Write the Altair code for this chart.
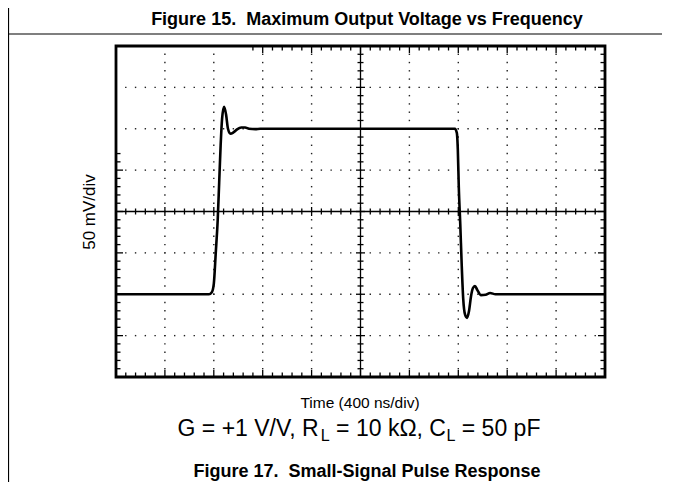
import altair as alt
import pandas as pd
import numpy as np

# ---------------- data ----------------
# pulse response: time in ns, output in mV (400 ns/div, 50 mV/div)
t_ns = [0, 760, 784, 800, 816, 832, 844, 856, 868, 884, 900, 916, 936, 960, 988,
        1024, 1056, 1088, 1140, 1180, 2772, 2788, 2796, 2804, 2816, 2828, 2840,
        2856, 2872, 2888, 2904, 2920, 2936, 2956, 2984, 3024, 3060, 3104, 4000]
v_mv = [-100, -100, -97.5, -87.5, -50, -10, 35, 80, 112.5, 126.5, 117.5, 100, 94,
        95.5, 99, 101.5, 101.5, 100, 99.5, 100, 100, 95, 75, 30, -15, -65, -105,
        -125, -128.5, -120, -102.5, -92.5, -90, -95, -101, -100.5, -98.5, -100, -100]

NS_PER_DIV = 400
MV_PER_DIV = 50
X_DIVS = 10
Y_DIVS = 8
MINOR_PER_DIV = 5

NB = "\u00a0"
title_top = "Figure 15." + NB + " Maximum Output Voltage vs Frequency"
x_label = "Time (400 ns/div)"
y_label = "50 mV/div"
# (text, is_subscript, leading gap in spaces)
cond_parts = [("G = +1 V/V, R", False, 0), ("L", True, 0), ("= 10 k\u03a9, C", False, 1),
              ("L", True, 0), ("= 50 pF", False, 1)]
caption = "Figure 17." + NB + " Small-Signal Pulse Response"

# ---------------- geometry ----------------
W, H = 489, 331
X0, X1 = 0, NS_PER_DIV * X_DIVS
Y0, Y1 = -MV_PER_DIV * Y_DIVS / 2, MV_PER_DIV * Y_DIVS / 2
px_x = W / (X1 - X0)
px_y = H / (Y1 - Y0)
FONT = "Liberation Sans"

xs = alt.Scale(domain=[X0, X1], nice=False, zero=False)
ys = alt.Scale(domain=[Y0, Y1], nice=False, zero=False)

# grid dots
dx_minor = NS_PER_DIV / MINOR_PER_DIV
dy_minor = MV_PER_DIV / MINOR_PER_DIV
grid_x_lines = [k * NS_PER_DIV for k in range(1, X_DIVS) if k != X_DIVS // 2]
grid_y_lines = [Y0 + m * MV_PER_DIV for m in range(1, Y_DIVS) if m != Y_DIVS // 2]
minor_x = [X0 + i * dx_minor for i in range(1, X_DIVS * MINOR_PER_DIV)]
minor_y = [Y0 + j * dy_minor for j in range(1, Y_DIVS * MINOR_PER_DIV)]
dots = [(gx, y) for gx in grid_x_lines for y in minor_y] + \
       [(x, gy) for gy in grid_y_lines for x in minor_x]
dots_df = pd.DataFrame(dots, columns=["x", "y"])

# tick segments (x, x2, y, y2)
segs = []
def is_major_x(x):
    return abs((x / NS_PER_DIV) - round(x / NS_PER_DIV)) < 1e-6
def is_major_y(y):
    return abs((y / MV_PER_DIV) - round(y / MV_PER_DIV)) < 1e-6

MIN_L, MAJ_L = 4.5, 7.0
XC, YC = (X0 + X1) / 2, 0
for x in minor_x:
    L = MAJ_L if is_major_x(x) else MIN_L
    segs.append((x, x, Y0, Y0 + L / px_y))               # bottom edge
    if x >= 2.8 * NS_PER_DIV:
        segs.append((x, x, Y1, Y1 - L / px_y))           # top edge
    c = 4.5 if is_major_x(x) else 3.0
    segs.append((x, x, YC - c / px_y, YC + c / px_y))    # centre line
for y in minor_y:
    L = MAJ_L if is_major_y(y) else MIN_L
    segs.append((X1, X1 - L / px_x, y, y))               # right edge
    if y <= 1.45 * MV_PER_DIV:
        segs.append((X0, X0 + L / px_x, y, y))           # left edge
    c = 4.5 if is_major_y(y) else 3.0
    segs.append((XC - c / px_x, XC + c / px_x, y, y))    # centre line
segs.append((X0, X1, YC, YC))
segs.append((XC, XC, Y0, Y1))
seg_df = pd.DataFrame(segs, columns=["x", "x2", "y", "y2"])

sig_df = pd.DataFrame({"t": t_ns, "v": v_mv})
frame_df = pd.DataFrame({"x": [X0], "x2": [X1], "y": [Y0], "y2": [Y1]})

# ---------------- layers ----------------
dots_layer = alt.Chart(dots_df).mark_square(size=2, color="#222", opacity=1).encode(
    x=alt.X("x:Q", scale=xs, axis=None), y=alt.Y("y:Q", scale=ys, axis=None))

ticks_layer = alt.Chart(seg_df).mark_rule(color="black", strokeWidth=1.3).encode(
    x=alt.X("x:Q", scale=xs, axis=None), x2="x2:Q",
    y=alt.Y("y:Q", scale=ys, axis=None), y2="y2:Q")

signal_layer = alt.Chart(sig_df).mark_line(
    color="black", strokeWidth=2.6, interpolate="monotone").encode(
    x=alt.X("t:Q", scale=xs, axis=None), y=alt.Y("v:Q", scale=ys, axis=None))

frame_layer = alt.Chart(frame_df).mark_rect(
    fillOpacity=0, stroke="black", strokeWidth=2.8).encode(
    x=alt.X("x:Q", scale=xs, axis=None), x2="x2:Q",
    y=alt.Y("y:Q", scale=ys, axis=None), y2="y2:Q")

# page decoration lines (pixels relative to plot origin)
deco_df = pd.DataFrame({"px": [-107.5, -108], "px2": [-107.5, 560],
                        "py": [-40, -12], "py2": [450, -12]})
deco_layer = alt.Chart(deco_df).mark_rule(color="black", strokeWidth=1.2).encode(
    x=alt.X("px:Q", scale=None), x2="px2:Q",
    y=alt.Y("py:Q", scale=None), y2="py2:Q")

def text_layer(rows, bold=False, align="center", angle=0, baseline="alphabetic"):
    df = pd.DataFrame(rows, columns=["px", "py", "txt", "fs"])
    return alt.Chart(df).mark_text(
        font=FONT, fontWeight="bold" if bold else "normal", align=align,
        baseline=baseline, angle=angle, color="black").encode(
        x=alt.X("px:Q", scale=None), y=alt.Y("py:Q", scale=None),
        text="txt:N", size=alt.Size("fs:Q", scale=None))

titles = text_layer([(251, -21.5, title_top, 18), (251, 431, caption, 18)], bold=True)
xlab = text_layer([(244, 362, x_label, 15.5)])
ylab = text_layer([(-26, 166, y_label, 17)], angle=270, baseline="middle")

# condition line with subscripts
AW = {' ': 278, NB: 278, '=': 584, '+': 584, '1': 556, '0': 556, '5': 556, 'V': 667,
      '/': 278, ',': 278, 'R': 722, 'L': 556, 'k': 500, '\u03a9': 768, 'C': 722,
      'p': 556, 'F': 611, 'G': 778}
FS = 23
SUB = 0.7
def tw(s, size):
    return sum(AW.get(ch, 556) for ch in s) * size / 1000.0
total = sum(tw(p, FS * SUB if sub else FS) + gap * AW[' '] * FS / 1000.0
            for p, sub, gap in cond_parts)
cx = 243 - total / 2
rows = []
base_y = 390
for p, sub, gap in cond_parts:
    size = FS * SUB if sub else FS
    cx += gap * AW[' '] * FS / 1000.0
    rows.append((cx, base_y + (0.22 * FS if sub else 0), p, size))
    cx += tw(p, size)
cond = text_layer(rows, align="left")

chart = alt.layer(
    deco_layer, dots_layer, ticks_layer, signal_layer, frame_layer,
    titles, xlab, ylab, cond
).properties(
    width=W, height=H,
    autosize=alt.AutoSizeParams(type="none"),
    padding={"left": 108, "top": 38, "right": 57, "bottom": 105},
    background="white"
).configure_view(stroke=None)

chart.save("out.html", embed_options={"renderer": "svg", "actions": False})
